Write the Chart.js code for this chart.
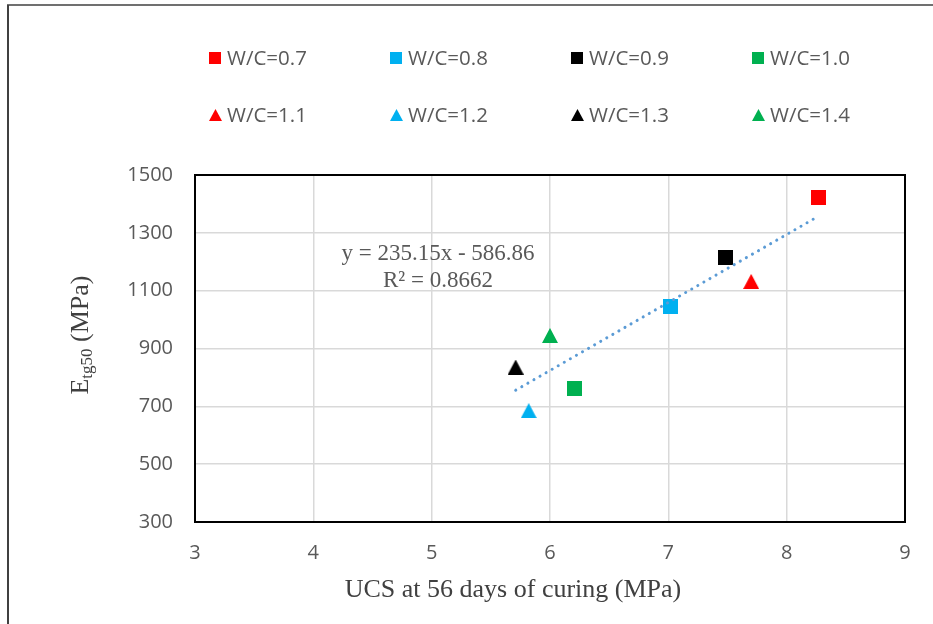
<!DOCTYPE html>
<html><head><meta charset="utf-8">
<script src="https://cdn.jsdelivr.net/npm/chart.js@4.4.1/dist/chart.umd.min.js"></script>
<style>html,body{margin:0;padding:0;background:#fff;} canvas{display:block;}</style>
</head><body>
<canvas id="c" width="933" height="624"></canvas>
<script>
// ---- data ----
const seriesLabels = ['W/C=0.7','W/C=0.8','W/C=0.9','W/C=1.0','W/C=1.1','W/C=1.2','W/C=1.3','W/C=1.4'];
const ucs56 = [8.27, 7.02, 7.48, 6.21, 7.70, 5.82, 5.71, 6.00];
const etg50 = [1422, 1044, 1216, 763, 1132, 685, 836, 945];
const seriesColors = ['#ff0000','#00b0f0','#000000','#00b050','#ff0000','#00b0f0','#000000','#00b050'];
const seriesMarkers = ['square','square','square','square','triangle','triangle','triangle','triangle'];
const xTicks = [3,4,5,6,7,8,9];
const yTicks = [300,500,700,900,1100,1300,1500];
const trendSlope = 235.15;
const trendIntercept = -586.86;
const trendR2 = '0.8662';
const xTitle = 'UCS at 56 days of curing (MPa)';

function markerImage(shape, color, w, h){
  const c = document.createElement('canvas');
  c.width = w; c.height = h;
  const g = c.getContext('2d');
  g.fillStyle = color;
  if (shape === 'square') g.fillRect(0,0,w,h);
  else { g.beginPath(); g.moveTo(w/2,0); g.lineTo(w,h); g.lineTo(0,h); g.closePath(); g.fill(); }
  return c;
}
const plotMarkers = seriesMarkers.map((m,i)=> m==='square' ? markerImage(m, seriesColors[i], 15, 15) : markerImage(m, seriesColors[i], 16, 15));
const legendMarkers = seriesMarkers.map((m,i)=> m==='square' ? markerImage(m, seriesColors[i], 12, 12) : markerImage(m, seriesColors[i], 13, 12));

const datasets = seriesLabels.map((lab,i)=>({
  label: lab,
  data: [{x: ucs56[i], y: etg50[i]}],
  pointStyle: plotMarkers[i],
  backgroundColor: seriesColors[i],
  borderColor: seriesColors[i],
  order: 1
}));
const xMin = Math.min(...ucs56), xMax = Math.max(...ucs56);
datasets.push({
  label: 'trend',
  type: 'line',
  data: [{x: xMin, y: trendSlope*xMin + trendIntercept}, {x: xMax, y: trendSlope*xMax + trendIntercept}],
  borderColor: '#5b9bd5',
  borderWidth: 3,
  borderDash: [0.1, 6.9],
  borderCapStyle: 'round',
  pointRadius: 0,
  fill: false,
  order: -1
});

const decor = {
  id: 'decor',
  beforeDraw(chart){
    const ctx = chart.ctx;
    ctx.save();
    ctx.fillStyle = '#fff';
    ctx.fillRect(0,0,chart.width,chart.height);
    ctx.strokeStyle = '#404040';
    ctx.lineWidth = 2;
    ctx.beginPath(); ctx.moveTo(8, chart.height+2); ctx.lineTo(8, 5); ctx.stroke();
    ctx.lineWidth = 1.5;
    ctx.beginPath(); ctx.moveTo(7, 5); ctx.lineTo(chart.width+2, 5); ctx.stroke();
    ctx.restore();
  },
  beforeDatasetsDraw(chart){
    const ctx = chart.ctx, a = chart.chartArea;
    ctx.save();
    ctx.strokeStyle = '#000';
    ctx.lineWidth = 2;
    ctx.strokeRect(a.left, a.top, a.right-a.left, a.bottom-a.top);
    ctx.restore();
  },
  afterDraw(chart){
    const ctx = chart.ctx, a = chart.chartArea;
    ctx.save();
    // legend
    ctx.font = '20.5px "Open Sans"';
    ctx.fillStyle = '#595959';
    ctx.textBaseline = 'middle';
    ctx.textAlign = 'left';
    seriesLabels.forEach((lab,i)=>{
      const col = i % 4, row = Math.floor(i/4);
      const cx = 215 + col*181, cy = 58 + row*57;
      const img = legendMarkers[i];
      ctx.drawImage(img, Math.round(cx - img.width/2), Math.round(cy - img.height/2));
      ctx.fillText(lab, cx + 12, cy + 1);
    });
    // equation
    ctx.font = '23px "Liberation Serif"';
    ctx.textAlign = 'center';
    ctx.textBaseline = 'middle';
    const eq = 'y = ' + trendSlope.toFixed(2) + 'x - ' + Math.abs(trendIntercept).toFixed(2);
    ctx.fillText(eq, a.left + 243, a.top + 79);
    ctx.fillText('R\u00B2 = ' + trendR2, a.left + 243, a.top + 106);
    // x title
    ctx.fillStyle = '#404040';
    ctx.font = '26px "Liberation Serif"';
    ctx.textBaseline = 'alphabetic';
    ctx.fillText(xTitle, 513, 597);
    // y title with subscript
    const mainF = '26px "Liberation Serif"', subF = '17px "Liberation Serif"';
    ctx.font = mainF; const wE = ctx.measureText('E').width;
    ctx.font = subF; const wS = ctx.measureText('tg50').width;
    ctx.font = mainF; const wR = ctx.measureText(' (MPa)').width;
    const tot = wE + wS + wR;
    ctx.translate(88, 335);
    ctx.rotate(-Math.PI/2);
    ctx.textAlign = 'left';
    let x0 = -tot/2;
    ctx.font = mainF; ctx.fillText('E', x0, 0); x0 += wE;
    ctx.font = subF; ctx.fillText('tg50', x0, 4); x0 += wS;
    ctx.font = mainF; ctx.fillText(' (MPa)', x0, 0);
    ctx.restore();
  }
};

new Chart(document.getElementById('c'), {
  type: 'scatter',
  data: { datasets },
  plugins: [decor],
  options: {
    responsive: false,
    animation: false,
    layout: { padding: { top: 175, left: 100, right: 28, bottom: 0 } },
    plugins: { legend: { display: false }, tooltip: { enabled: false } },
    scales: {
      x: {
        type: 'linear', min: 3, max: 9,
        afterFit(s){ s.height = 102; },
        afterBuildTicks(s){ s.ticks = xTicks.map(v=>({value:v})); },
        grid: { color: '#d9d9d9', lineWidth: 1.5, drawTicks: false },
        border: { display: false },
        ticks: { padding: 19, color: '#595959', font: { family: 'Open Sans', size: 20 }, callback: v => String(v) }
      },
      y: {
        type: 'linear', min: 300, max: 1500,
        afterFit(s){ s.width = 95; },
        afterBuildTicks(s){ s.ticks = yTicks.map(v=>({value:v})); },
        grid: { color: '#d9d9d9', lineWidth: 1.5, drawTicks: false },
        border: { display: false },
        ticks: { padding: 22, color: '#595959', font: { family: 'Open Sans', size: 20 }, callback: v => String(v) }
      }
    }
  }
});
</script>
</body></html>
